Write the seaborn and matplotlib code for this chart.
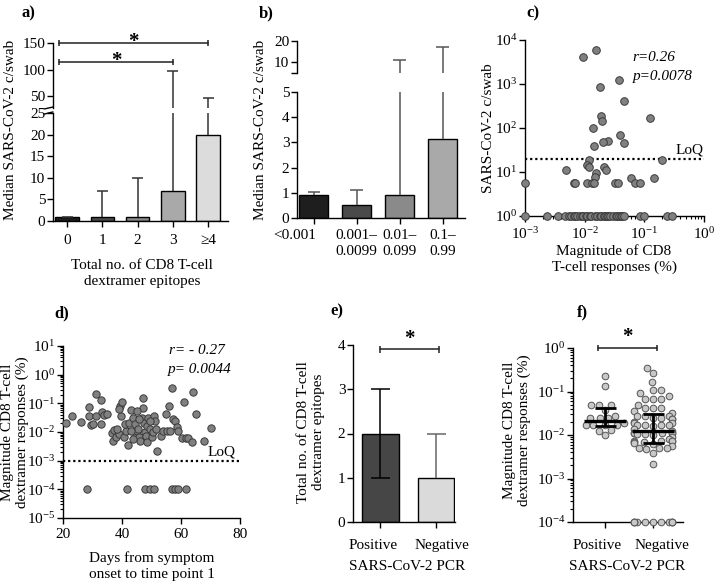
import warnings
warnings.filterwarnings('ignore')
import numpy as np
import pandas as pd
import matplotlib
matplotlib.use('Agg')
import matplotlib.pyplot as plt
import matplotlib.transforms as mtrans
import seaborn as sns
from matplotlib.ticker import LogLocator, NullFormatter, FixedLocator, FixedFormatter

# ---------------- data ----------------
a_cats = ['0', '1', '2', '3', '≥4']
a_median = [1, 1, 1, 7, 20]
a_q3 = [1, 7, 10, 97, 47]
a_colors = ['#1e1e1e', '#4a4a4a', '#8a8a8a', '#a9a9a9', '#dcdcdc']
a_sig_left = [0, 0]
a_sig_right = [4, 3]
a_sig_y = [150, 115]

b_cats = ['<0.001', '0.001–\n0.0099', '0.01–\n0.099', '0.1–\n0.99']
b_median = [0.9, 0.5, 0.9, 3.15]
b_q3 = [1.03, 1.1, 11.3, 17]
b_colors = ['#1e1e1e', '#4a4a4a', '#8a8a8a', '#a9a9a9']

c_magnitude = [0.0155, 0.0095, 0.037, 0.0178, 0.045, 0.123, 0.019, 0.0196, 0.0138, 0.039,
               0.0245, 0.0205, 0.045, 0.0145, 0.20, 0.012, 0.0048, 0.011, 0.012, 0.021,
               0.023, 0.0155, 0.015, 0.060, 0.148, 0.001, 0.0065, 0.0069, 0.0109, 0.0132,
               0.0142, 0.0326, 0.0356, 0.069, 0.085,
               0.001, 0.0023, 0.0036, 0.0047, 0.0054, 0.0058, 0.0065, 0.0068, 0.0074, 0.0082,
               0.0090, 0.0095, 0.0105, 0.011, 0.0123, 0.013, 0.015, 0.016, 0.018, 0.019,
               0.021, 0.022, 0.0235, 0.025, 0.027, 0.030, 0.033, 0.035, 0.037, 0.040,
               0.042, 0.045, 0.085, 0.098, 0.24, 0.29]
c_copies = [5900, 4050, 1230, 840, 420, 170, 187, 147, 98, 69,
            51, 47, 45, 40, 19, 19, 11, 14.4, 12.8, 12.8,
            11, 9.6, 7.8, 7.2, 7.2, 5.7, 5.7, 5.7, 5.7, 5.7,
            5.7, 5.7, 5.7, 5.7, 5.7,
            1, 1, 1, 1, 1, 1, 1, 1, 1, 1,
            1, 1, 1, 1, 1, 1, 1, 1, 1, 1,
            1, 1, 1, 1, 1, 1, 1, 1, 1, 1,
            1, 1, 1, 1, 1, 1]
c_loq = 20

d_days = [20.9, 22.9, 26.0, 28.9, 28.9, 29.4, 30.1, 31.1, 31.1, 32.9, 32.8, 33.1, 33.9, 34.8,
          36.5, 37.3, 37.1, 37.9, 39.0, 38.2, 39.7, 39.3, 39.9, 39.0,
          40.7, 41.9, 41.4, 41.0, 42.4, 42.9, 43.8, 44.4, 44.7, 45.1,
          45.5, 45.8, 46.1, 46.7, 47.0, 47.1, 47.5, 47.8, 48.0, 48.4,
          48.6, 48.9, 49.5, 50.1, 50.6, 50.8, 51.2, 51.5, 51.8, 53.1,
          54.0, 54.9, 55.4, 56.0, 56.3, 56.8, 57.2, 58.0, 58.5, 59.1,
          60.2, 61.1, 61.7, 62.5, 63.6, 64.2, 65.1, 67.8, 70.1,
          45.1, 45.8, 43.2, 49.5, 43.8,
          28.2, 41.6, 47.8, 49.5, 50.8, 56.8, 57.9, 59.1, 61.6]
d_magnitude = [0.020, 0.036, 0.023, 0.074, 0.036, 0.018, 0.019, 0.21, 0.036, 0.13, 0.019, 0.048, 0.039, 0.042,
               0.0089, 0.0117, 0.0050, 0.0066, 0.0085, 0.0126, 0.036, 0.081, 0.107, 0.063,
               0.0069, 0.0036, 0.0105, 0.019, 0.020, 0.058, 0.032, 0.019, 0.0085, 0.0112,
               0.0126, 0.0066, 0.0050, 0.032, 0.158, 0.068, 0.021, 0.0098, 0.0074, 0.0044,
               0.0166, 0.032, 0.0126, 0.0066, 0.0098, 0.036, 0.0245, 0.0126, 0.0021, 0.0074,
               0.0112, 0.042, 0.0112, 0.081, 0.0112, 0.35, 0.028, 0.0245, 0.0145, 0.0112,
               0.0063, 0.107, 0.0063, 0.0063, 0.0044, 0.25, 0.042, 0.0047, 0.0135,
               0.055, 0.028, 0.0105, 0.0245, 0.0058,
               0.0001, 0.0001, 0.0001, 0.0001, 0.0001, 0.0001, 0.0001, 0.0001, 0.0001]
d_loq = 1e-3

e_cats = ['Positive', 'Negative']
e_median = [2, 1]
e_q1 = [1, 1]
e_q3 = [3, 2]
e_colors = ['#464646', '#dadada']
e_err_colors = ['#000000', '#666666']

f_cats = ['Positive', 'Negative']
f_pos = [0.23, 0.137, 0.049, 0.049, 0.049, 0.037, 0.028, 0.024, 0.024, 0.024,
         0.0185, 0.0166, 0.0166, 0.0166, 0.0166, 0.013, 0.0124, 0.0098]
f_neg = [0.35, 0.27, 0.166, 0.111, 0.111, 0.093, 0.078, 0.068, 0.068, 0.068,
         0.050, 0.042, 0.042, 0.042, 0.035, 0.032, 0.027, 0.027, 0.027, 0.025,
         0.025, 0.023, 0.023, 0.020, 0.0185, 0.0185, 0.0166, 0.0166, 0.0166, 0.0166,
         0.016, 0.014, 0.0126, 0.0113, 0.0113, 0.0113, 0.0113, 0.0109, 0.0104, 0.0104,
         0.0098, 0.0089, 0.0079, 0.0073, 0.0073, 0.0073, 0.0073, 0.0069, 0.0069, 0.0067,
         0.0063, 0.0056, 0.0051, 0.0051, 0.0049, 0.0047, 0.0038, 0.0022,
         0.0001, 0.0001, 0.0001, 0.0001, 0.0001, 0.0001, 0.0001, 0.0001, 0.0001, 0.0001, 0.0001]
f_median = [0.021, 0.0123]
f_q1 = [0.016, 0.0066]
f_q3 = [0.041, 0.030]

# ---------------- style ----------------
sns.set_theme(style='ticks')
plt.rcParams.update({
    'font.family': ['Liberation Serif', 'DejaVu Serif'],
    'mathtext.fontset': 'custom',
    'mathtext.rm': 'Liberation Serif',
    'mathtext.it': 'Liberation Serif:italic',
    'mathtext.bf': 'Liberation Serif:bold',
    'font.size': 11,
    'axes.labelsize': 11,
    'xtick.labelsize': 11,
    'ytick.labelsize': 11,
    'axes.edgecolor': 'black',
    'axes.linewidth': 1.0,
    'xtick.color': 'black',
    'ytick.color': 'black',
    'xtick.major.size': 4,
    'ytick.major.size': 4,
    'xtick.major.width': 1.0,
    'ytick.major.width': 1.0,
    'xtick.minor.size': 2,
    'ytick.minor.size': 2,
    'xtick.minor.width': 0.8,
    'ytick.minor.width': 0.8,
    'xtick.major.pad': 3,
    'ytick.major.pad': 1.5,
    'text.color': 'black',
})

W, H = 714, 583
fig = plt.figure(figsize=(W / 100, H / 100), dpi=100)


def add_ax(x0, y0, x1, y1):
    ax = fig.add_axes([x0 / W, 1 - y1 / H, (x1 - x0) / W, (y1 - y0) / H])
    ax.set_facecolor('none')
    for s in ('top', 'right'):
        ax.spines[s].set_visible(False)
    return ax


def ftext(x, y, s, **kw):
    fig.text(x / W, 1 - y / H, s, **kw)


def shift_label(label, dx_px):
    label.set_transform(label.get_transform() +
                        mtrans.ScaledTranslation(dx_px / 100, 0, fig.dpi_scale_trans))


def bracket(ax, x0, x1, y, tick, star_off=0.5):
    ax.plot([x0, x1], [y, y], color='#222222', lw=1.1, clip_on=False)
    ax.vlines([x0, x1], y - tick, y + tick, color='#222222', lw=1.1, clip_on=False)
    ax.annotate('*', xy=((x0 + x1) / 2, y), xytext=(0, star_off), textcoords='offset points',
                ha='center', va='bottom', fontsize=15, fontweight='bold', annotation_clip=False)


def bar_errors(ax, med, q3, half, color):
    x = np.arange(len(med))
    ax.vlines(x, med, q3, color=color, lw=1.1, zorder=3)
    ax.hlines(q3, x - half, x + half, color=color, lw=1.1, zorder=3)


def lift_points(ax, z=5):
    for coll in ax.collections:
        coll.set_clip_on(False)
        coll.set_zorder(z)


# ---------------- panel a ----------------
axa_lo = add_ax(53, 113, 228, 221)
axa_hi = add_ax(53, 43, 228, 108)
for ax in (axa_lo, axa_hi):
    sns.barplot(x=a_cats, y=a_median, hue=a_cats, palette=a_colors, width=0.67,
                edgecolor='black', linewidth=1.0, errorbar=None, legend=False, ax=ax)
    bar_errors(ax, a_median, a_q3, 0.155, '#333333')
    ax.set_xlim(-0.4, 4.56)
axa_lo.set_ylim(0, 25)
axa_lo.set_yticks([0, 5, 10, 15, 20, 25])
axa_hi.set_ylim(28, 150)
axa_hi.set_yticks([50, 100, 150])
axa_hi.spines['bottom'].set_visible(False)
axa_hi.tick_params(axis='x', bottom=False, labelbottom=False)
axa_hi.plot([-0.05, 0.0], [-0.015, 0.015], transform=axa_hi.transAxes, color='black',
            lw=1.0, clip_on=False)
axa_lo.plot([-0.05, 0.0], [0.99, 1.01], transform=axa_lo.transAxes, color='black',
            lw=1.0, clip_on=False)
for l, r, y in zip(a_sig_left, a_sig_right, a_sig_y):
    bracket(axa_hi, l - 0.22, r, y, 5.5, star_off=-6.5)
axa_lo.tick_params(axis='x', pad=5)
ftext(11, 130, 'Median SARS-CoV-2 c/swab', rotation=90, ha='center', va='center', fontsize=11)
ftext(142, 273, 'Total no. of CD8 T-cell\ndextramer epitopes', ha='center', va='center',
      fontsize=11, linespacing=1.3)
ftext(28, 13, 'a)', ha='center', va='center', fontsize=12, fontweight='bold')

# ---------------- panel b ----------------
axb_lo = add_ax(297, 92, 465, 218)
axb_hi = add_ax(297, 41, 465, 73)
for ax in (axb_lo, axb_hi):
    sns.barplot(x=b_cats, y=b_median, hue=b_cats, palette=b_colors, width=0.67,
                edgecolor='black', linewidth=1.0, errorbar=None, legend=False, ax=ax)
    bar_errors(ax, b_median, b_q3, 0.145, '#555555')
    ax.set_xlim(-0.39, 3.52)
axb_lo.set_ylim(0, 5)
axb_lo.set_yticks([0, 1, 2, 3, 4, 5])
axb_hi.set_ylim(5, 20)
axb_hi.yaxis.set_major_locator(FixedLocator([5, 10, 20]))
axb_hi.yaxis.set_major_formatter(FixedFormatter(['', '10', '20']))
axb_hi.spines['bottom'].set_visible(False)
axb_hi.tick_params(axis='x', bottom=False, labelbottom=False)
axb_lo.tick_params(axis='x', pad=4)
b_labels = axb_lo.get_xticklabels()
for t in b_labels:
    t.set_va('top')
    t.set_linespacing(1.3)
b_labels[0].set_ha('right')
shift_label(b_labels[0], 2)
ftext(261, 130, 'Median SARS-CoV-2 c/swab', rotation=90, ha='center', va='center', fontsize=11)
ftext(266, 13, 'b)', ha='center', va='center', fontsize=12, fontweight='bold')

# ---------------- panel c ----------------
axc = add_ax(525, 40, 704, 216)
sns.scatterplot(x=c_magnitude, y=c_copies, ax=axc, s=30, marker='o', color='#808080',
                edgecolor='#3a3a3a', linewidth=0.7)
lift_points(axc)
axc.set_xscale('log')
axc.set_yscale('log')
axc.set_xlim(1e-3, 1)
axc.set_ylim(1, 1e4)
axc.xaxis.set_minor_locator(LogLocator(base=10, subs=np.arange(2, 10), numticks=20))
axc.xaxis.set_minor_formatter(NullFormatter())
axc.yaxis.set_minor_locator(FixedLocator([]))
axc.axhline(c_loq, color='black', lw=1.6, ls=(0, (1, 1.3)), zorder=2)
axc.text(0.985, c_loq * 1.12, 'LoQ', ha='right', va='bottom', fontsize=11)
axc.text(0.6, 0.9, 'r=0.26', transform=axc.transAxes, ha='left', va='center',
         fontsize=11, fontstyle='italic')
axc.text(0.6, 0.795, 'p=0.0078', transform=axc.transAxes, ha='left', va='center',
         fontsize=11, fontstyle='italic')
ftext(489, 128, 'SARS-CoV-2 c/swab', rotation=90, ha='center', va='center', fontsize=11)
ftext(614, 259, 'Magnitude of CD8\nT-cell responses (%)', ha='center', va='center',
      fontsize=11, linespacing=1.3)
ftext(533, 13, 'c)', ha='center', va='center', fontsize=12, fontweight='bold')

# ---------------- panel d ----------------
axd = add_ax(63, 346, 240, 518)
sns.scatterplot(x=d_days, y=d_magnitude, ax=axd, s=28, marker='o', color='#808080',
                edgecolor='#3a3a3a', linewidth=0.7)
lift_points(axd)
axd.set_yscale('log')
axd.set_xlim(20, 80)
axd.set_ylim(1e-5, 10)
axd.set_xticks([20, 40, 60, 80])
axd.yaxis.set_major_locator(LogLocator(base=10, numticks=10))
axd.yaxis.set_minor_locator(LogLocator(base=10, subs=np.arange(2, 10), numticks=20))
axd.yaxis.set_minor_formatter(NullFormatter())
axd.axhline(d_loq, color='black', lw=1.6, ls=(0, (1, 1.3)), zorder=2)
axd.text(78.5, d_loq * 1.2, 'LoQ', ha='right', va='bottom', fontsize=11)
axd.text(0.6, 0.975, 'r= - 0.27', transform=axd.transAxes, ha='left', va='center',
         fontsize=11, fontstyle='italic')
axd.text(0.59, 0.865, 'p= 0.0044', transform=axd.transAxes, ha='left', va='center',
         fontsize=11, fontstyle='italic')
ftext(15, 432, 'Magnitude CD8 T-cell\ndextramer responses (%)', rotation=90, ha='center',
      va='center', fontsize=11, linespacing=1.2)
ftext(152, 566, 'Days from symptom\nonset to time point 1', ha='center', va='center',
      fontsize=11, linespacing=1.3)
ftext(62, 313, 'd)', ha='center', va='center', fontsize=12, fontweight='bold')

# ---------------- panel e ----------------
axe = add_ax(353, 345, 455, 522)
sns.barplot(x=e_cats, y=e_median, hue=e_cats, palette=e_colors, width=0.66,
            edgecolor='black', linewidth=1.0, errorbar=None, legend=False, ax=axe)
xe = np.arange(len(e_cats))
for i in range(len(e_cats)):
    axe.vlines(xe[i], e_q1[i], e_q3[i], color=e_err_colors[i], lw=1.1, zorder=3)
    axe.hlines(e_q3[i], xe[i] - 0.17, xe[i] + 0.17, color=e_err_colors[i], lw=1.1, zorder=3)
    if e_q1[i] < e_median[i]:
        axe.hlines(e_q1[i], xe[i] - 0.17, xe[i] + 0.17, color=e_err_colors[i], lw=1.1, zorder=3)
axe.set_xlim(-0.49, 1.34)
axe.set_ylim(0, 4)
axe.set_yticks([0, 1, 2, 3, 4])
axe.tick_params(axis='x', pad=8)
e_labels = axe.get_xticklabels()
shift_label(e_labels[0], -7)
shift_label(e_labels[1], 6)
bracket(axe, 0, 1.05, 3.9, 0.07)
ftext(311, 432, 'Total no. of CD8 T-cell\ndextramer epitopes', rotation=90, ha='center',
      va='center', fontsize=11, linespacing=1.2)
ftext(407, 567, 'SARS-CoV-2 PCR', ha='center', va='center', fontsize=11)
ftext(337, 311, 'e)', ha='center', va='center', fontsize=12, fontweight='bold')

# ---------------- panel f ----------------
axf = add_ax(573, 348, 683, 522)
f_df = pd.DataFrame({'group': ['Positive'] * len(f_pos) + ['Negative'] * len(f_neg),
                     'value': f_pos + f_neg})
sns.swarmplot(data=f_df, x='group', y='value', order=f_cats, ax=axf, size=4.8,
              color='#c8c8c8', edgecolor='#555555', linewidth=0.7, log_scale=True)
lift_points(axf, 3)
axf.set_ylim(1e-4, 1)
axf.set_xlim(-0.67, 1.62)
axf.set_xlabel('')
axf.set_ylabel('')
axf.yaxis.set_major_locator(LogLocator(base=10, numticks=10))
axf.yaxis.set_minor_locator(LogLocator(base=10, subs=np.arange(2, 10), numticks=20))
axf.yaxis.set_minor_formatter(NullFormatter())
xf = np.arange(len(f_cats))
axf.hlines(f_median, xf - 0.44, xf + 0.44, color='black', lw=2.4, zorder=5)
axf.vlines(xf, f_q1, f_q3, color='black', lw=2.0, zorder=5)
axf.hlines(f_q1, xf - 0.22, xf + 0.22, color='black', lw=2.0, zorder=5)
axf.hlines(f_q3, xf - 0.22, xf + 0.22, color='black', lw=2.0, zorder=5)
axf.tick_params(axis='x', pad=8)
f_labels = axf.get_xticklabels()
shift_label(f_labels[0], -8)
shift_label(f_labels[1], 9)
axf.plot([-0.15, 1.08], [1, 1], color='#222222', lw=1.1, clip_on=False)
axf.vlines([-0.15, 1.08], 1 / 1.17, 1.17, color='#222222', lw=1.1, clip_on=False)
axf.annotate('*', xy=(0.465, 1), xytext=(0, 0.5), textcoords='offset points', ha='center',
             va='bottom', fontsize=15, fontweight='bold', annotation_clip=False)
ftext(517, 430, 'Magnitude CD8 T-cell\ndextramer responses (%)', rotation=90, ha='center',
      va='center', fontsize=11, linespacing=1.2)
ftext(627, 567, 'SARS-CoV-2 PCR', ha='center', va='center', fontsize=11)
ftext(582, 312, 'f)', ha='center', va='center', fontsize=12, fontweight='bold')

fig.savefig('out.png', dpi=100)
